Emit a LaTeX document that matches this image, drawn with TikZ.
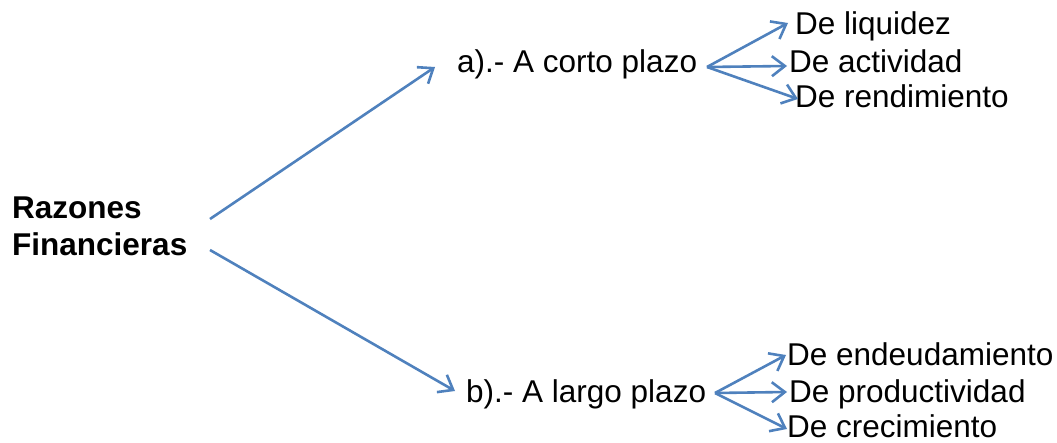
\documentclass[tikz,border=0pt]{standalone}
\usepackage{fontspec}
\setmainfont{Liberation Sans}
\usetikzlibrary{arrows.meta}
\definecolor{lineblue}{RGB}{79,129,189}
\begin{document}
\begin{tikzpicture}[x=1pt,y=-1pt,
  lbl/.style={inner sep=0pt, anchor=base west, font=\fontsize{31.5}{37}\selectfont},
  conn/.style={draw=lineblue, line width=2.6pt, -{Straight Barb[length=13pt,width=20pt]}}]
\useasboundingbox (0,0) rectangle (1057,443);
% texts
\node[lbl, font=\fontsize{31.5}{37}\selectfont\bfseries, align=left, anchor=north west] (root) at (12,197) {Razones\\Financieras};
\node[lbl] (a) at (457,73) {a).- A corto plazo};
\node[lbl] (b) at (466,402) {b).- A largo plazo};
\node[lbl] (a1) at (795,35) {De liquidez};
\node[lbl] (a2) at (789,73) {De actividad};
\node[lbl] (a3) at (795,108) {De rendimiento};
\node[lbl] (b1) at (787,365) {De endeudamiento};
\node[lbl] (b2) at (789,402) {De productividad};
\node[lbl] (b3) at (787,437) {De crecimiento};
% connector end points
\coordinate (rs1) at (210,219);
\coordinate (rs2) at (210,250);
\coordinate (at) at (435,67);
\coordinate (bt) at (455,391);
\coordinate (af) at (707,67);
\coordinate (bf) at (715,393);
\coordinate (a1t) at (788,23);
\coordinate (a2t) at (787,66);
\coordinate (a3t) at (798,99);
\coordinate (b1t) at (786,355);
\coordinate (b2t) at (787,392);
\coordinate (b3t) at (787,429);
% connectors
\draw[conn] (rs1) -- (at);
\draw[conn] (rs2) -- (bt);
\draw[conn] (af) -- (a1t);
\draw[conn] (af) -- (a2t);
\draw[conn] (af) -- (a3t);
\draw[conn] (bf) -- (b1t);
\draw[conn] (bf) -- (b2t);
\draw[conn] (bf) -- (b3t);
\end{tikzpicture}
\end{document}
